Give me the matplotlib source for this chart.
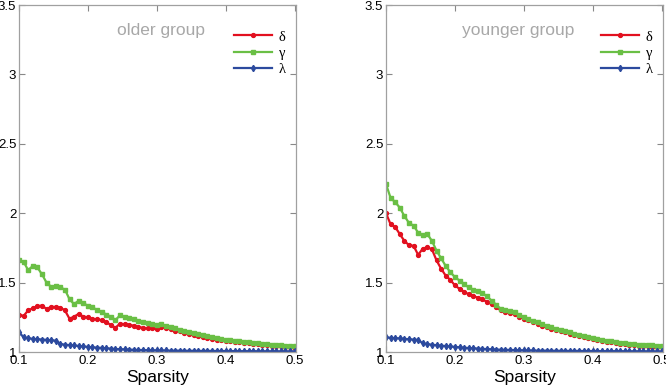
import numpy as np
import matplotlib
matplotlib.use('Agg')
import matplotlib.pyplot as plt

plt.rcParams['font.family'] = ['Liberation Sans', 'DejaVu Sans']

# sparsity grid (61 thresholds)
sparsity = np.linspace(0.1, 0.5, 61)

# older group
old_delta = [1.27, 1.26, 1.30, 1.315, 1.33, 1.335, 1.31, 1.325, 1.325, 1.32,
             1.30, 1.24, 1.255, 1.275, 1.255, 1.25, 1.24, 1.235, 1.23, 1.215,
             1.195, 1.175, 1.205, 1.20, 1.195, 1.19, 1.18, 1.175, 1.17, 1.17,
             1.165, 1.18, 1.172, 1.165, 1.155, 1.148, 1.14, 1.132, 1.125, 1.118,
             1.11, 1.103, 1.097, 1.09, 1.085, 1.08, 1.076, 1.073, 1.07, 1.066,
             1.063, 1.06, 1.056, 1.052, 1.049, 1.046, 1.043, 1.04, 1.037, 1.034,
             1.032]
old_gamma = [1.66, 1.65, 1.59, 1.62, 1.61, 1.56, 1.50, 1.47, 1.475, 1.465,
             1.45, 1.38, 1.345, 1.37, 1.35, 1.335, 1.325, 1.30, 1.29, 1.27,
             1.255, 1.23, 1.265, 1.25, 1.245, 1.235, 1.225, 1.215, 1.21, 1.205,
             1.195, 1.20, 1.19, 1.18, 1.172, 1.162, 1.152, 1.145, 1.137, 1.13,
             1.122, 1.115, 1.108, 1.10, 1.093, 1.087, 1.083, 1.08, 1.077, 1.074,
             1.072, 1.068, 1.064, 1.06, 1.057, 1.053, 1.05, 1.048, 1.046, 1.044,
             1.042]
old_lambda = [1.145, 1.105, 1.10, 1.095, 1.093, 1.09, 1.088, 1.085, 1.082, 1.058,
              1.053, 1.05, 1.047, 1.044, 1.04, 1.037, 1.034, 1.032, 1.03, 1.027,
              1.025, 1.022, 1.02, 1.019, 1.018, 1.016, 1.015, 1.014, 1.013, 1.012,
              1.012, 1.011, 1.011, 1.010, 1.010, 1.010, 1.009, 1.009, 1.009, 1.008,
              1.008, 1.008, 1.008, 1.007, 1.007, 1.007, 1.007, 1.006, 1.006, 1.006,
              1.006, 1.006, 1.005, 1.005, 1.005, 1.005, 1.005, 1.004, 1.004, 1.004,
              1.004]

# younger group
young_delta = [2.00, 1.92, 1.90, 1.85, 1.80, 1.77, 1.765, 1.70, 1.745, 1.755,
               1.74, 1.66, 1.60, 1.55, 1.52, 1.48, 1.455, 1.435, 1.415, 1.405,
               1.39, 1.38, 1.36, 1.345, 1.325, 1.30, 1.29, 1.28, 1.275, 1.255,
               1.24, 1.228, 1.215, 1.205, 1.19, 1.177, 1.167, 1.158, 1.15, 1.142,
               1.133, 1.124, 1.115, 1.107, 1.10, 1.092, 1.086, 1.08, 1.074, 1.069,
               1.065, 1.06, 1.056, 1.052, 1.049, 1.046, 1.043, 1.04, 1.038, 1.036,
               1.034]
young_gamma = [2.21, 2.11, 2.08, 2.04, 1.98, 1.93, 1.91, 1.86, 1.845, 1.85,
               1.80, 1.73, 1.675, 1.62, 1.575, 1.54, 1.515, 1.49, 1.465, 1.45,
               1.44, 1.425, 1.40, 1.37, 1.34, 1.31, 1.30, 1.295, 1.285, 1.265,
               1.25, 1.237, 1.225, 1.215, 1.20, 1.187, 1.177, 1.168, 1.16, 1.152,
               1.143, 1.133, 1.122, 1.115, 1.108, 1.10, 1.093, 1.087, 1.081, 1.076,
               1.072, 1.068, 1.064, 1.06, 1.057, 1.054, 1.052, 1.05, 1.048, 1.046,
               1.044]
young_lambda = [1.105, 1.103, 1.10, 1.098, 1.095, 1.092, 1.09, 1.088, 1.062, 1.057,
                1.053, 1.049, 1.046, 1.043, 1.04, 1.037, 1.034, 1.031, 1.029, 1.027,
                1.025, 1.023, 1.021, 1.02, 1.018, 1.017, 1.016, 1.015, 1.014, 1.013,
                1.012, 1.011, 1.011, 1.010, 1.010, 1.010, 1.009, 1.009, 1.009, 1.008,
                1.008, 1.008, 1.008, 1.007, 1.007, 1.007, 1.007, 1.006, 1.006, 1.006,
                1.006, 1.006, 1.005, 1.005, 1.005, 1.005, 1.005, 1.004, 1.004, 1.004,
                1.004]

labels = ['δ', 'γ', 'λ']
titles = ['older group', 'younger group']
xticks = [0.1, 0.2, 0.3, 0.4, 0.5]
yticks = [1, 1.5, 2, 2.5, 3, 3.5]
ytick_labels = ['1', '1.5', '2', '2.5', '3', '3.5']

red = '#e2101f'
green = '#6abf45'
blue = '#2c4a9e'
grey = '#a8a8a8'

fig = plt.figure(figsize=(6.66, 3.87), dpi=100)
ax1 = fig.add_axes([0.0285, 0.0904, 0.4159, 0.8966])
ax2 = fig.add_axes([0.5796, 0.0904, 0.4159, 0.8966])

panels = [(ax1, old_delta, old_gamma, old_lambda, 0.513),
          (ax2, young_delta, young_gamma, young_lambda, 0.477)]

for k, (ax, d, g, l, tx) in enumerate(panels):
    ax.plot(sparsity, d, color=red, marker='o', markersize=2.8, lw=1.6, label=labels[0])
    ax.plot(sparsity, g, color=green, marker='s', markersize=2.6, lw=1.6, label=labels[1])
    ax.plot(sparsity, l, color=blue, marker='d', markersize=3.2, lw=1.6, label=labels[2])

    ax.set_xlim(0.1, 0.502)
    ax.set_ylim(1, 3.5)
    ax.set_xticks(xticks)
    ax.set_xticklabels([str(t) for t in xticks])
    ax.set_yticks(yticks)
    ax.set_yticklabels(ytick_labels)
    ax.tick_params(direction='in', top=True, right=True, length=4, width=0.8,
                   color='#888888', labelsize=9.5, pad=2)
    for s in ax.spines.values():
        s.set_color('#a0a0a0')
        s.set_linewidth(0.9)
    ax.set_xlabel('Sparsity', fontsize=12.5, labelpad=2)

    ax.text(tx, 0.927, titles[k], transform=ax.transAxes, ha='center', va='center',
            color=grey, fontsize=12.5)

    leg = ax.legend(loc='upper right', bbox_to_anchor=(1.01, 0.965), frameon=False,
                    handlelength=2.6, handletextpad=0.45, labelspacing=0.2,
                    prop={'family': 'Liberation Serif', 'size': 10.5})

fig.savefig('out.png', dpi=100)
